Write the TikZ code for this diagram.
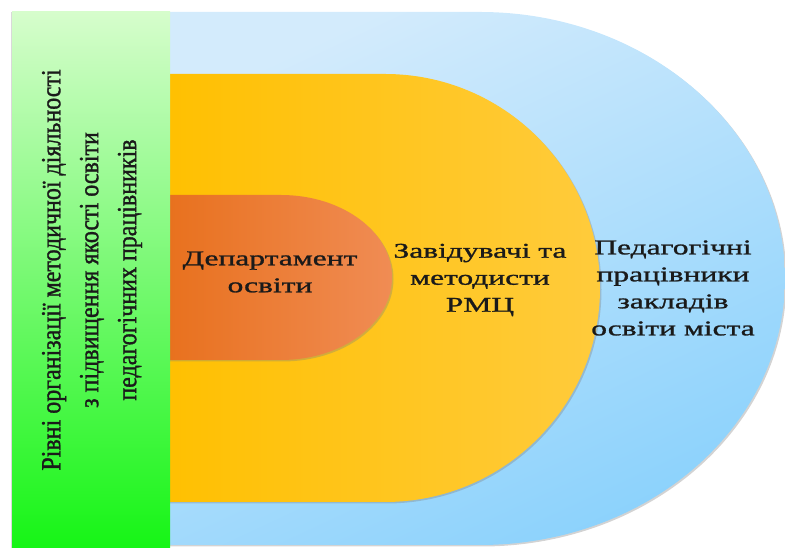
\documentclass[tikz,border=0pt]{standalone}
\usepackage{fontspec}
\setmainfont{Liberation Serif}
\newfontfamily\widefont[FakeStretch=1.5,FakeBold=1.2]{Liberation Serif}
\newfontfamily\sidefont[FakeBold=1.2]{Liberation Serif}
\definecolor{lvText}{HTML}{1A1A1A}
\definecolor{lvGreenTop}{HTML}{D6FDCC}
\definecolor{lvGreenBot}{HTML}{16F516}
\definecolor{lvBlueTop}{HTML}{D3EBFC}
\definecolor{lvBlueBot}{HTML}{8CD2FC}
\definecolor{lvGoldL}{HTML}{FFC000}
\definecolor{lvGoldR}{HTML}{FFCB3C}
\definecolor{lvRustL}{HTML}{E8701C}
\definecolor{lvRustR}{HTML}{F08C54}
\usetikzlibrary{shadows}

\begin{document}
\begin{tikzpicture}[x=1pt, y=1pt,
  level/.style={drop shadow={opacity=0.35, shadow xshift=1.5pt, shadow yshift=-1.5pt}},
  label/.style={text=lvText, align=center, font=\widefont\fontsize{21}{27}\selectfont},
  side/.style={text=lvText, align=center, rotate=90, yscale=1.15,
    font=\sidefont\fontsize{24}{33}\selectfont}
]
  \useasboundingbox (0,0) rectangle (785,553);

  % levels, outer to inner
  \shade[level, top color=lvBlueTop, bottom color=lvBlueBot, shading angle=25]
    (160,541) -- (480,541) arc[start angle=90, end angle=-90, x radius=305, y radius=266.5]
    -- (160,8) -- cycle;
  \shade[level, left color=lvGoldL, right color=lvGoldR]
    (160,479) -- (385,479) arc[start angle=90, end angle=-90, x radius=215, y radius=214]
    -- (160,51) -- cycle;
  \shade[level, left color=lvRustL, right color=lvRustR]
    (160,358) -- (281,358) arc[start angle=90, end angle=-90, x radius=111, y radius=82.5]
    -- (160,193) -- cycle;

  \shade[drop shadow={opacity=0.3, shadow xshift=-1.5pt, shadow yshift=0pt},
    top color=lvGreenTop, bottom color=lvGreenBot] (12,5) rectangle (170,541);

  \node[side] (levels) at (92,283) {
    Рівні організації методичної діяльності\\
    з підвищення якості освіти\\
    педагогічних працівників
  };
  \node[label] (dept) at (270,281) {Департамент\\освіти};
  \node[label] (rmc) at (480,273) {Завідувачі та\\методисти\\РМЦ};
  \node[label] (teach) at (673,265) {Педагогічні\\працівники\\закладів\\освіти міста};
\end{tikzpicture}
\end{document}
